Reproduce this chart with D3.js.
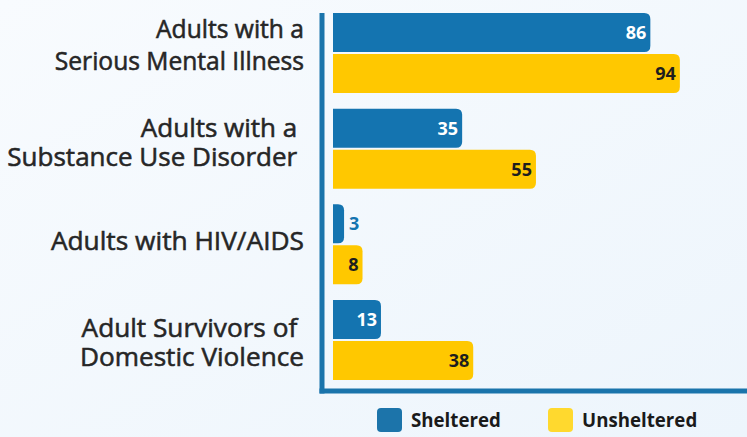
<!DOCTYPE html>
<html>
<head>
<meta charset="utf-8">
<script src="https://cdn.jsdelivr.net/npm/d3@7"></script>
<style>
  html, body { margin: 0; padding: 0; }
  body { width: 747px; height: 437px; overflow: hidden; }
  text { font-family: "Open Sans", "Noto Sans", sans-serif; }
</style>
</head>
<body>
<svg id="chart" width="747" height="437"></svg>
<script>
// data
const categories = [
  ["Adults with a", "Serious Mental Illness"],
  ["Adults with a ", "Substance Use Disorder "],
  ["Adults with HIV/AIDS"],
  ["Adult Survivors of ", "Domestic Violence"]
];
const series = ["Sheltered", "Unsheltered"];
const sheltered = [86, 35, 3, 13];
const unsheltered = [94, 55, 8, 38];

const colors = { Sheltered: "#1474b0", Unsheltered: "#ffc800" };
const legendColors = { Sheltered: "#1c74aa", Unsheltered: "#ffd92e" };
const valueColors = { Sheltered: "#ffffff", Unsheltered: "#1e1e1e" };

// label text boxes differ a little in the original
const labelSize = [24.6, 26, 26.3, 26.2];
const labelLine = [33, 29.5, 0, 29.5];
const labelDy = [1, 3, 6, 11.5];

const svg = d3.select("#chart");
const width = 747, height = 437;

// background
const defs = svg.append("defs");
const grad = defs.append("linearGradient").attr("id", "bg").attr("x1", 0).attr("x2", 1).attr("y1", 0).attr("y2", 1);
grad.append("stop").attr("offset", "0%").attr("stop-color", "#f8fbfe");
grad.append("stop").attr("offset", "100%").attr("stop-color", "#edf5fc");
svg.append("rect").attr("width", width).attr("height", height).attr("fill", "url(#bg)");

const rows = categories.map((c, i) => ({
  key: i, label: c,
  values: [
    { s: "Sheltered", v: sheltered[i] },
    { s: "Unsheltered", v: unsheltered[i] }
  ]
}));

const x = d3.scaleLinear().domain([0, 100]).range([333, 702]);
const y = d3.scaleBand().domain(rows.map(d => d.key)).range([13, 380]).paddingInner(0.164).paddingOuter(0);
const ys = d3.scaleBand().domain(series).range([0, y.bandwidth()]).paddingInner(0.05);

// bar with square left side and rounded right corners
function barPath(x0, y0, w, h, r) {
  r = Math.min(r, w, h / 2);
  return `M${x0},${y0}H${x0 + w - r}Q${x0 + w},${y0} ${x0 + w},${y0 + r}` +
    `V${y0 + h - r}Q${x0 + w},${y0 + h} ${x0 + w - r},${y0 + h}H${x0}Z`;
}

const group = svg.append("g").selectAll("g")
  .data(rows)
  .join("g")
  .attr("transform", d => `translate(0,${y(d.key)})`);

group.selectAll("path")
  .data(d => d.values)
  .join("path")
  .attr("d", d => barPath(x(0), ys(d.s), x(d.v) - x(0), ys.bandwidth(), 6))
  .attr("fill", d => colors[d.s]);

group.selectAll("text.val")
  .data(d => d.values)
  .join("text")
  .attr("class", "val")
  .attr("x", d => (x(d.v) - x(0) > 20) ? x(d.v) - 4 : x(d.v) + 5)
  .attr("y", d => ys(d.s) + ys.bandwidth() / 2 + 6.5)
  .attr("text-anchor", d => (x(d.v) - x(0) > 20) ? "end" : "start")
  .attr("font-size", "18px")
  .attr("font-weight", 700)
  .attr("fill", d => (x(d.v) - x(0) > 20) ? valueColors[d.s] : colors[d.s])
  .text(d => d.v);

// category labels (regular weight thickened a little with a thin stroke)
group.append("text")
  .attr("text-anchor", "end")
  .attr("font-size", d => labelSize[d.key] + "px")
  .attr("font-weight", 400)
  .attr("fill", "#262626")
  .attr("stroke", "#262626")
  .attr("stroke-width", 0.55)
  .style("white-space", "pre")
  .selectAll("tspan")
  .data(d => d.label.map((t, i) => ({ t, i, n: d.label.length, k: d.key })))
  .join("tspan")
  .attr("x", 304)
  .attr("y", d => y.bandwidth() / 2 + labelDy[d.k] + (d.i - (d.n - 1) / 2) * labelLine[d.k])
  .text(d => d.t);

// axis frame
svg.append("line").attr("x1", 322).attr("x2", 322).attr("y1", 13).attr("y2", 393.5)
  .attr("stroke", "#1a74ab").attr("stroke-width", 5);
svg.append("line").attr("x1", 319.5).attr("x2", width).attr("y1", 391).attr("y2", 391)
  .attr("stroke", "#1a74ab").attr("stroke-width", 5);

// legend
const legendX = [377, 548];
const legend = svg.append("g").selectAll("g")
  .data(series)
  .join("g")
  .attr("transform", (d, i) => `translate(${legendX[i]},408)`);
legend.append("rect")
  .attr("width", 25).attr("height", 24).attr("rx", 4)
  .attr("fill", d => legendColors[d]);
legend.append("text")
  .attr("x", 34).attr("y", 19)
  .attr("font-size", "18.7px").attr("font-weight", 700)
  .attr("fill", "#1a1a1a")
  .text(d => d);
</script>
</body>
</html>
